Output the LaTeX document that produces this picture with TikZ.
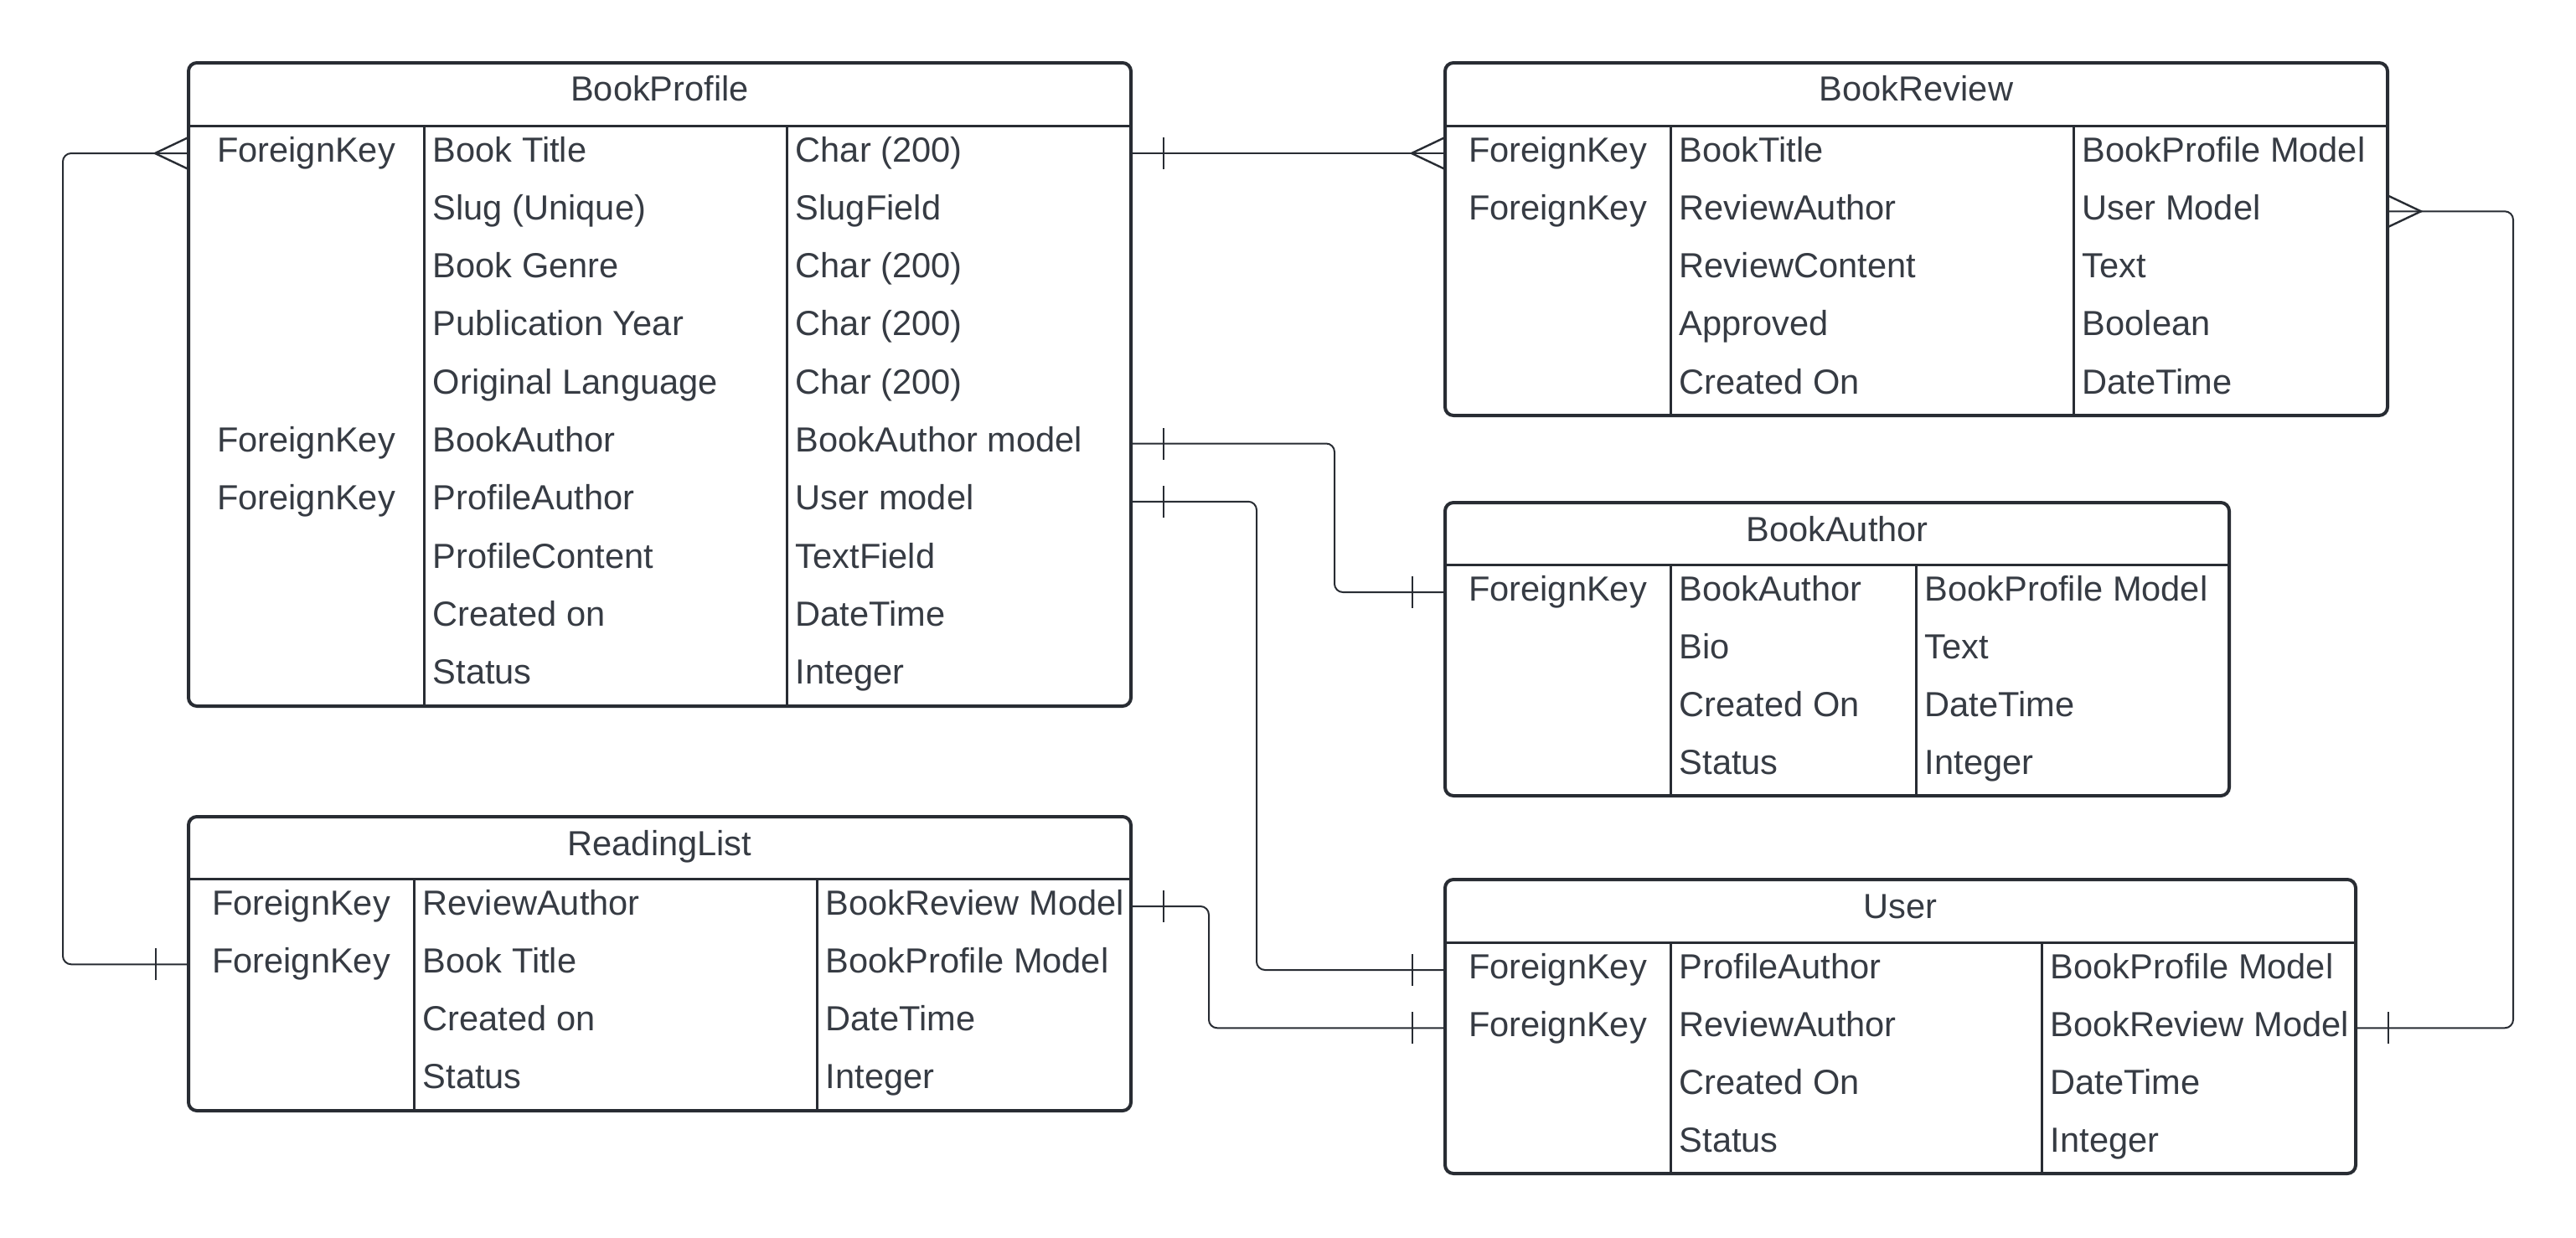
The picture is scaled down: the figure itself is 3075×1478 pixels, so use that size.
\documentclass[tikz,border=0pt]{standalone}
\usepackage{fontspec}
\setmainfont{Liberation Sans}
\usepackage{tikz}
\usetikzlibrary{positioning, calc}
\usetikzlibrary{decorations.markings}
\definecolor{linedark}{RGB}{40,44,51}
\definecolor{textdark}{RGB}{54,59,67}
\tikzstyle{tablebox}=[draw=linedark, line width=1pt, rounded corners=2.5pt, anchor=north west, inner sep=0pt, outer sep=0pt]
\tikzstyle{rowline}=[draw=linedark, line width=0.75pt]
\tikzstyle{cell}=[text=textdark, font=\fontsize{10.4}{12}\selectfont, inner sep=0pt, text height=0.75em, text depth=0.25em, anchor=base west]
\tikzstyle{keycell}=[cell, anchor=base]
\tikzstyle{tabletitle}=[cell, anchor=base]
\tikzstyle{relpath}=[draw=linedark, line width=0.5pt, rounded corners=2.5pt]
\tikzstyle{tickstart}=[postaction={decorate, decoration={markings, mark=at position 9.75pt with {\draw[draw=linedark, line width=0.6pt, sharp corners] (0,-4.75pt) -- (0,4.75pt);}}}]
\tikzstyle{tickend}=[postaction={decorate, decoration={markings, mark=at position -9.75pt with {\draw[draw=linedark, line width=0.6pt, sharp corners] (0,-4.75pt) -- (0,4.75pt);}}}]
\tikzstyle{crowstart}=[postaction={decorate, decoration={markings, mark=at position 10pt with {\draw[draw=linedark, line width=0.6pt, sharp corners] (-10pt,4.75pt) -- (0,0) -- (-10pt,-4.75pt);}}}]
\tikzstyle{crowend}=[postaction={decorate, decoration={markings, mark=at position -10pt with {\draw[draw=linedark, line width=0.6pt, sharp corners] (10pt,4.75pt) -- (0,0) -- (10pt,-4.75pt);}}}]

\begin{document}
\begin{tikzpicture}[x=0.25pt, y=-0.25pt]
    \useasboundingbox (0,0) rectangle (3075,1478);

    % BookProfile
    \node[tablebox, minimum width=281.25pt, minimum height=192pt] (bp) at (225,75) {};
    \draw[rowline] (225,150) -- (1350,150);
    \draw[rowline] (506,150) -- (506,843);
    \draw[rowline] (939,150) -- (939,843);
    \node[tabletitle] (bpt) at (787.5,121) {BookProfile};
    \node[keycell] (bpk1) at (365.5,193) {ForeignKey};
    \node[keycell] (bpk6) at (365.5,539.5) {ForeignKey};
    \node[keycell] (bpk7) at (365.5,608.8) {ForeignKey};
    \foreach \f/\t [count=\i from 0] in {Book Title/Char (200), Slug (Unique)/SlugField,
        Book Genre/Char (200), Publication Year/Char (200), Original Language/Char (200),
        BookAuthor/BookAuthor model, ProfileAuthor/User model, ProfileContent/TextField,
        Created on/DateTime, Status/Integer}{
        \node[cell] at ({516},{193+69.3*\i}) {\f};
        \node[cell] at ({949},{193+69.3*\i}) {\t};
    }

    % BookReview
    \node[tablebox, minimum width=281.25pt, minimum height=105.25pt] (br) at (1725,75) {};
    \draw[rowline] (1725,150) -- (2850,150);
    \draw[rowline] (1994,150) -- (1994,496);
    \draw[rowline] (2475,150) -- (2475,496);
    \node[tabletitle] (brt) at (2287.5,121) {BookReview};
    \node[keycell] (brk1) at (1859.5,193) {ForeignKey};
    \node[keycell] (brk2) at (1859.5,262.3) {ForeignKey};
    \foreach \f/\t [count=\i from 0] in {BookTitle/BookProfile Model, ReviewAuthor/User Model,
        ReviewContent/Text, Approved/Boolean, Created On/DateTime}{
        \node[cell] at ({2004},{193+69.3*\i}) {\f};
        \node[cell] at ({2485},{193+69.3*\i}) {\t};
    }

    % BookAuthor
    \node[tablebox, minimum width=234pt, minimum height=87.5pt] (ba) at (1725,600) {};
    \draw[rowline] (1725,674) -- (2661,674);
    \draw[rowline] (1994,674) -- (1994,950);
    \draw[rowline] (2287,674) -- (2287,950);
    \node[tabletitle] (bat) at (2193,646) {BookAuthor};
    \node[keycell] (bak1) at (1859.5,717) {ForeignKey};
    \foreach \f/\t [count=\i from 0] in {BookAuthor/BookProfile Model, Bio/Text,
        Created On/DateTime, Status/Integer}{
        \node[cell] at ({2004},{717+69.3*\i}) {\f};
        \node[cell] at ({2297},{717+69.3*\i}) {\t};
    }

    % ReadingList
    \node[tablebox, minimum width=281.25pt, minimum height=87.75pt] (rl) at (225,975) {};
    \draw[rowline] (225,1049) -- (1350,1049);
    \draw[rowline] (494,1049) -- (494,1326);
    \draw[rowline] (975,1049) -- (975,1326);
    \node[tabletitle] (rlt) at (787.5,1021) {ReadingList};
    \node[keycell] (rlk1) at (359.5,1092) {ForeignKey};
    \node[keycell] (rlk2) at (359.5,1161.3) {ForeignKey};
    \foreach \f/\t [count=\i from 0] in {ReviewAuthor/BookReview Model, Book Title/BookProfile Model,
        Created on/DateTime, Status/Integer}{
        \node[cell] at ({504},{1092+69.3*\i}) {\f};
        \node[cell] at ({985},{1092+69.3*\i}) {\t};
    }

    % User
    \node[tablebox, minimum width=271.75pt, minimum height=87.75pt] (us) at (1725,1050) {};
    \draw[rowline] (1725,1125) -- (2812,1125);
    \draw[rowline] (1994,1125) -- (1994,1401);
    \draw[rowline] (2437,1125) -- (2437,1401);
    \node[tabletitle] (ust) at (2268.5,1096) {User};
    \node[keycell] (usk1) at (1859.5,1168) {ForeignKey};
    \node[keycell] (usk2) at (1859.5,1237.3) {ForeignKey};
    \foreach \f/\t [count=\i from 0] in {ProfileAuthor/BookProfile Model, ReviewAuthor/BookReview Model,
        Created On/DateTime, Status/Integer}{
        \node[cell] at ({2004},{1168+69.3*\i}) {\f};
        \node[cell] at ({2447},{1168+69.3*\i}) {\t};
    }

    % lanes for the connectors
    \coordinate (laneL) at (75,0);
    \coordinate (laneA) at (1593,0);
    \coordinate (laneB) at (1500,0);
    \coordinate (laneC) at (1443,0);
    \coordinate (laneR) at (3000,0);

    \path[relpath, crowstart, tickend]
        (bp.west |- bpk1) -- (laneL |- bpk1) -- (laneL |- rlk2) -- (rl.west |- rlk2);
    \path[relpath, tickstart, crowend]
        (bp.east |- bpk1) -- (br.west |- brk1);
    \path[relpath, tickstart, tickend]
        (bp.east |- bpk6) -- (laneA |- bpk6) -- (laneA |- bak1) -- (ba.west |- bak1);
    \path[relpath, tickstart, tickend]
        (bp.east |- bpk7) -- (laneB |- bpk7) -- (laneB |- usk1) -- (us.west |- usk1);
    \path[relpath, tickstart, tickend]
        (rl.east |- rlk1) -- (laneC |- rlk1) -- (laneC |- usk2) -- (us.west |- usk2);
    \path[relpath, crowstart, tickend]
        (br.east |- brk2) -- (laneR |- brk2) -- (laneR |- usk2) -- (us.east |- usk2);
\end{tikzpicture}
\end{document}
